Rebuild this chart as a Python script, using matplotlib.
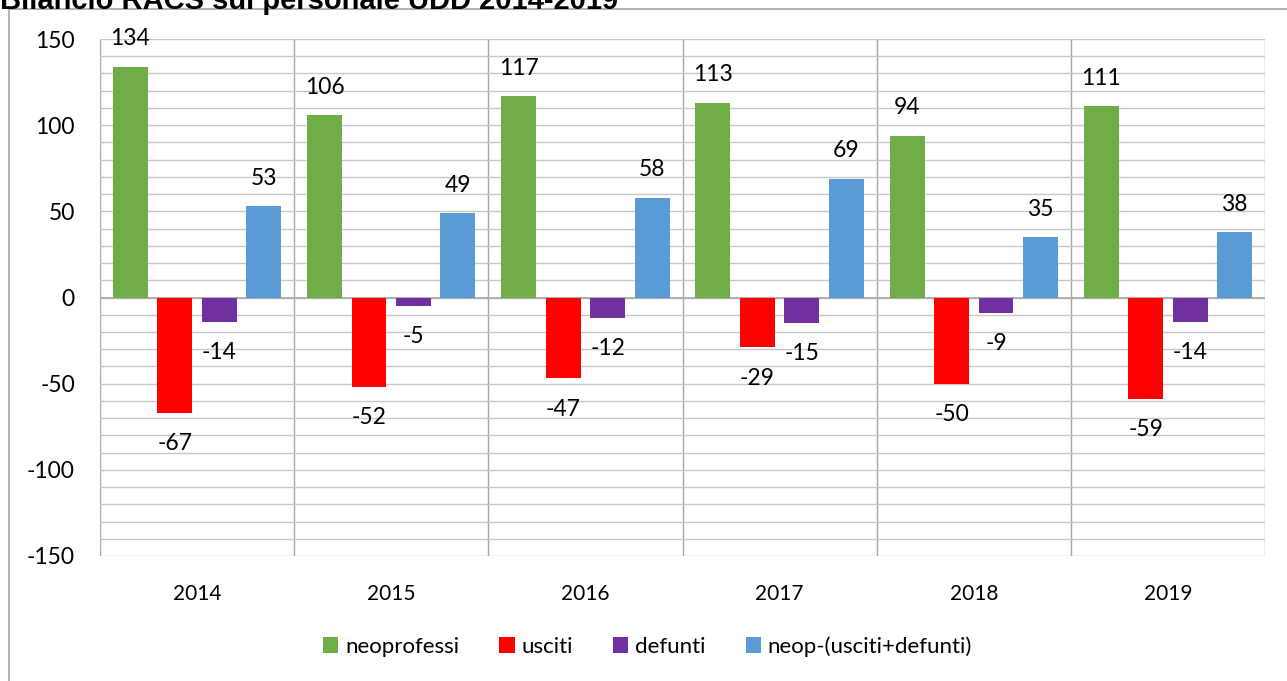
import numpy as np
import matplotlib.pyplot as plt
from matplotlib.patches import Rectangle

# dati
anni = ['2014', '2015', '2016', '2017', '2018', '2019']
neoprofessi = [134, 106, 117, 113, 94, 111]
usciti = [-67, -52, -47, -29, -50, -59]
defunti = [-14, -5, -12, -15, -9, -14]
saldo = [53, 49, 58, 69, 35, 38]

serie = [
    ('neoprofessi', neoprofessi, '#70AD47'),
    ('usciti', usciti, '#FF0000'),
    ('defunti', defunti, '#7030A0'),
    ('neop-(usciti+defunti)', saldo, '#5B9BD5'),
]

plt.rcParams['font.family'] = ['Lato', 'DejaVu Sans']
plt.rcParams['axes.unicode_minus'] = False

fig = plt.figure(figsize=(12.87, 6.81), dpi=100)
ax = fig.add_axes([100 / 1287, 125 / 681, 1165 / 1287, 517 / 681])

# cornice esterna
fig.patches.append(Rectangle((9 / 1287, -0.05), 1.1, 0.05 + 672 / 681,
                             transform=fig.transFigure, fill=False,
                             edgecolor='#a6a6a6', lw=1.2))
fig.text(0, 1.0 + 13 / 681, 'Bilancio RACS sul personale UDD 2014-2019',
         fontsize=21, fontweight='bold', family='Liberation Sans',
         ha='left', va='top')

x = np.arange(len(anni))
larg = 0.18
passo = 0.229
for i, (nome, val, col) in enumerate(serie):
    pos = x + (i - 1.5) * passo
    ax.bar(pos, val, width=larg, color=col, label=nome, zorder=3)
    for p, v in zip(pos, val):
        off = 20 if v >= 0 else -22
        ax.annotate(str(v), (p, v), xytext=(0, off), textcoords='offset points',
                    ha='center', va='center', fontsize=16.5)

ax.set_xlim(-0.5, len(anni) - 0.5)
ax.set_ylim(-150, 150)
ax.set_yticks(range(-150, 151, 50))
ax.set_yticks(range(-150, 151, 10), minor=True)
ax.set_xticks(x)
ax.set_xticklabels(anni, fontsize=15)
ax.tick_params(axis='y', labelsize=16.5, length=0, pad=18, which='both')
ax.tick_params(axis='x', length=0, pad=20)
ax.grid(axis='y', which='both', color='#c8c8c8', lw=1, zorder=0)
for k in range(len(anni) + 1):
    ax.axvline(k - 0.5, color='#a6a6a6', lw=1, zorder=1)
ax.axhline(0, color='#a6a6a6', lw=1.2, zorder=2)
for s in ax.spines.values():
    s.set_visible(False)

ax.legend(loc='center', bbox_to_anchor=(0.47, -0.175), ncol=4, frameon=False,
          fontsize=16, handlelength=0.7, handleheight=0.7,
          handletextpad=0.3, columnspacing=1.8)

fig.savefig('out.png', dpi=100)
